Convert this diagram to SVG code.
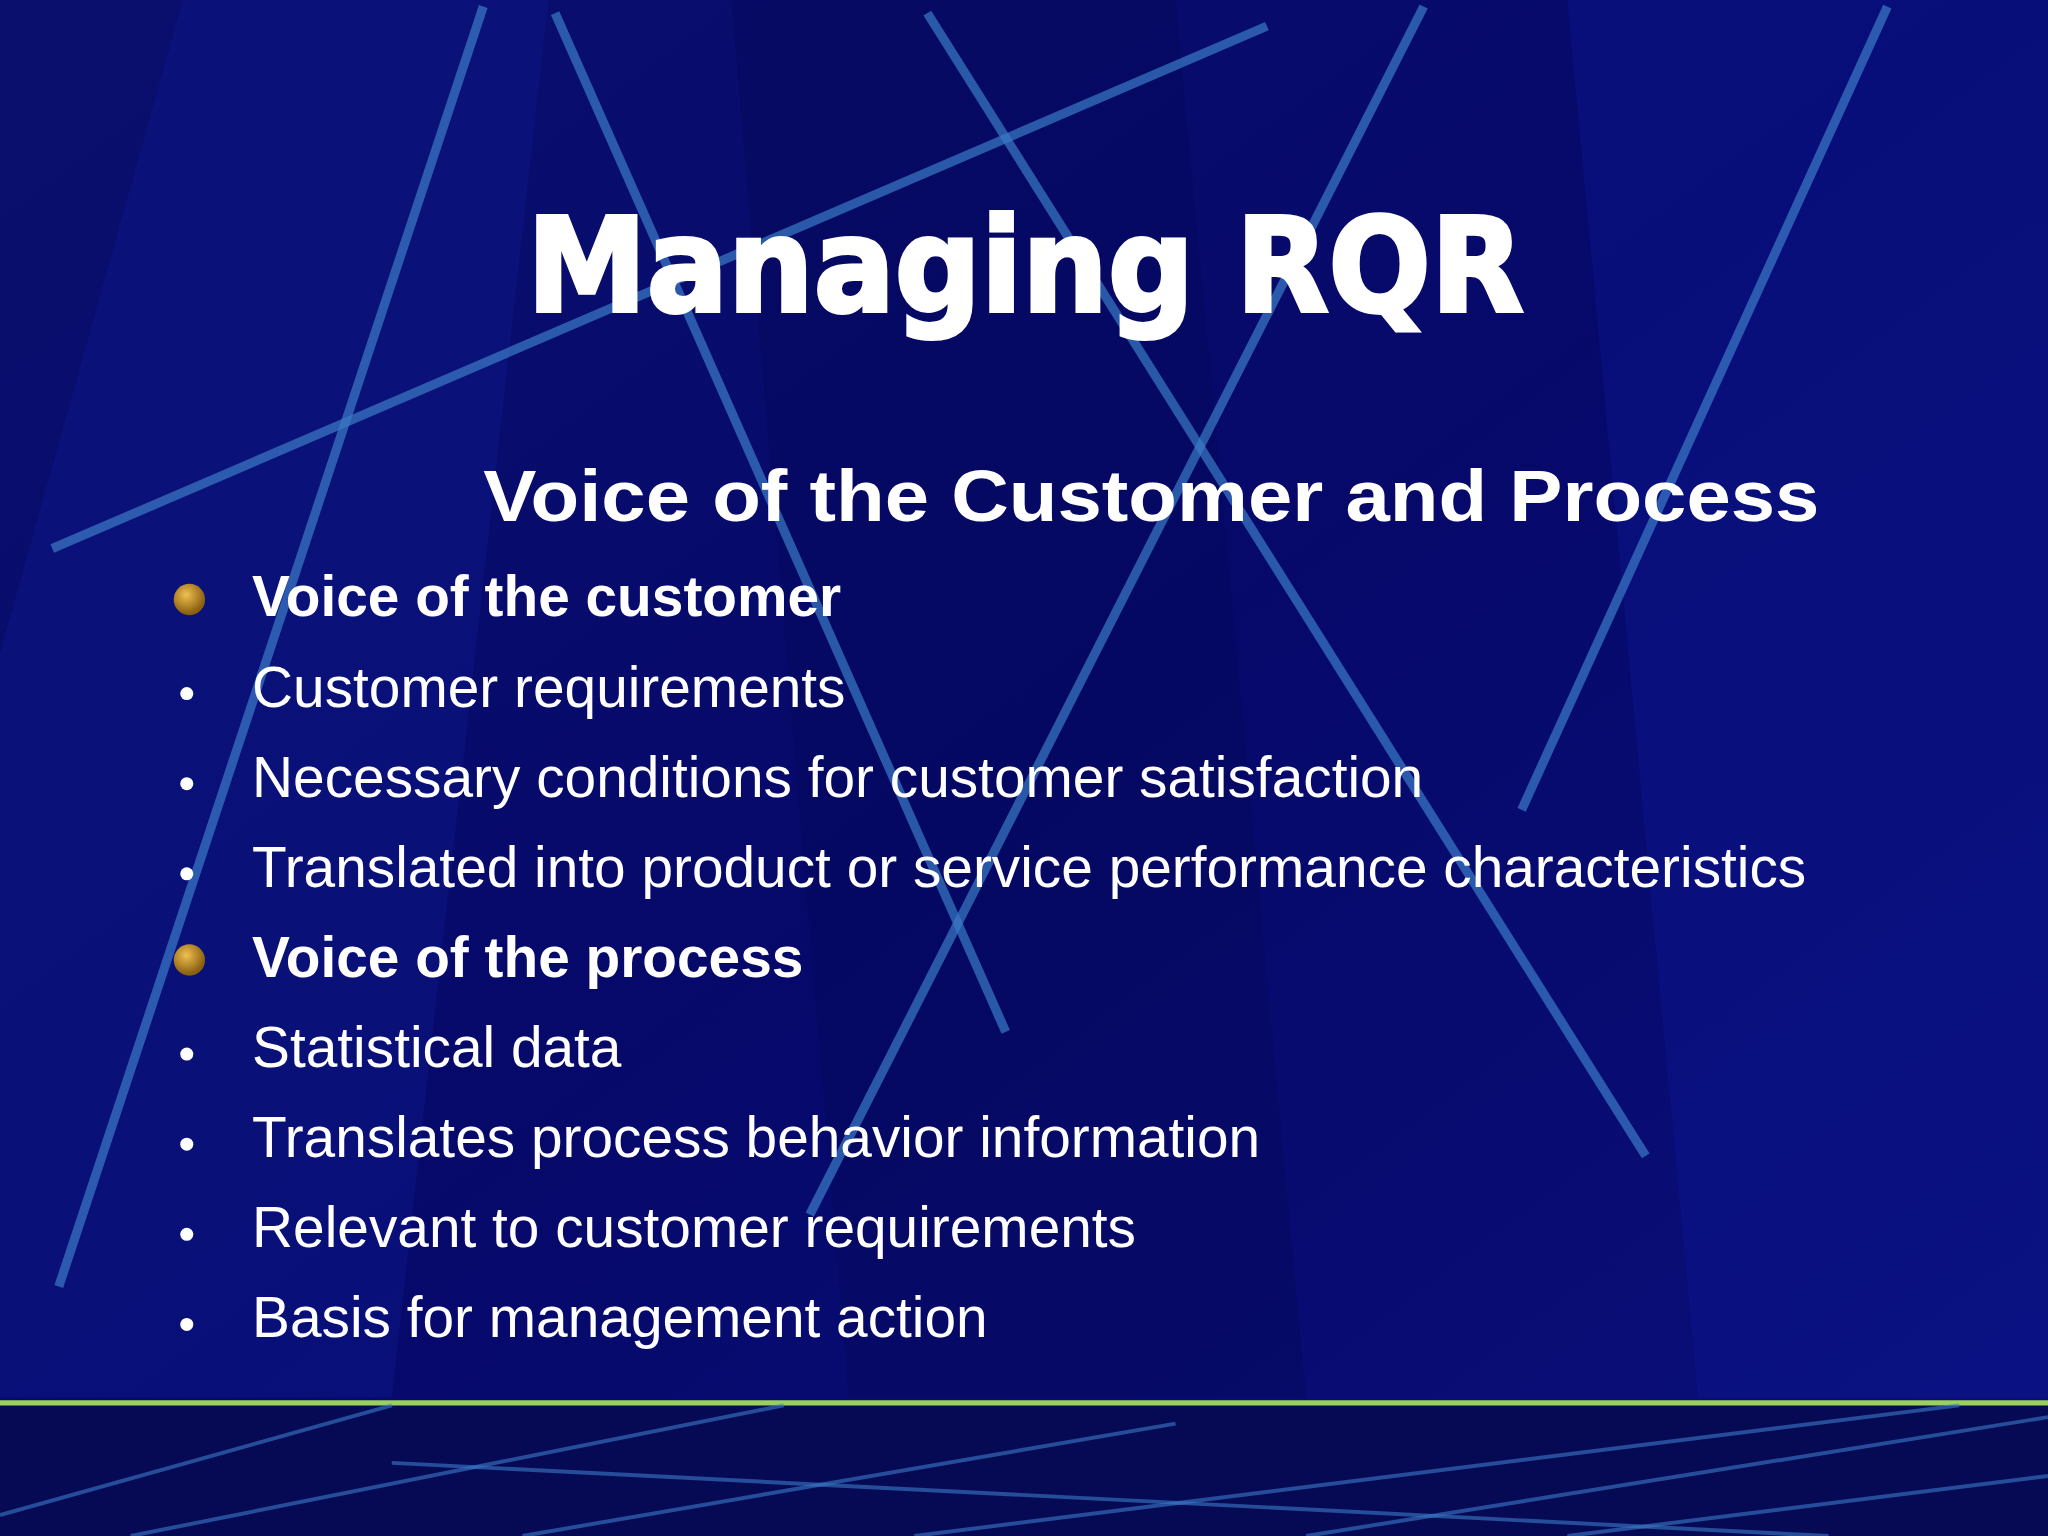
<svg xmlns="http://www.w3.org/2000/svg" width="2048" height="1536" viewBox="0 0 2048 1536">
<defs>
<linearGradient id="bg" x1="0" y1="0" x2="1" y2="1">
<stop offset="0" stop-color="#0a0f6e"/><stop offset="0.5" stop-color="#06096a"/><stop offset="1" stop-color="#0a0f7a"/>
</linearGradient>
<radialGradient id="gold" cx="0.4" cy="0.35" r="0.6">
<stop offset="0" stop-color="#f0c050"/><stop offset="1" stop-color="#8a6010"/>
</radialGradient>
<style>
.ln{stroke:#3a7ac8;stroke-width:7;opacity:0.7;fill:none}
.ln2{stroke:#3a7ac8;stroke-width:3;opacity:0.6;fill:none}
.b{font-family:"Liberation Sans",Arial,sans-serif;font-size:43.5px;fill:#fff}
.bb{font-family:"Liberation Sans",Arial,sans-serif;font-size:43.5px;font-weight:bold;fill:#fff}
</style>
</defs>
<g transform="scale(1.30612)">
<rect width="1568" height="1176" fill="url(#bg)"/>
<polygon points="140,0 420,0 300,1070 0,1070 0,500" fill="#0b1585" opacity="0.5"/>
<polygon points="560,0 900,0 1000,1070 650,1070" fill="#050858" opacity="0.4"/>
<polygon points="1200,0 1568,0 1568,1070 1300,1070" fill="#0c1690" opacity="0.4"/>
<line class="ln" x1="370" y1="5" x2="45" y2="985"/>
<line class="ln" x1="425" y1="10" x2="770" y2="790"/>
<line class="ln" x1="710" y1="10" x2="1260" y2="885"/>
<line class="ln" x1="1090" y1="5" x2="620" y2="930"/>
<line class="ln" x1="1445" y1="5" x2="1165" y2="620"/>
<line class="ln" x1="970" y1="20" x2="40" y2="420"/>
<rect x="0" y="1072" width="1568" height="104" fill="#060a55"/>
<line x1="0" y1="1074" x2="1568" y2="1074" stroke="#9ad060" stroke-width="4"/>
<line class="ln2" x1="0" y1="1160" x2="300" y2="1076"/>
<line class="ln2" x1="100" y1="1176" x2="600" y2="1076"/>
<line class="ln2" x1="400" y1="1176" x2="900" y2="1090"/>
<line class="ln2" x1="700" y1="1176" x2="1500" y2="1076"/>
<line class="ln2" x1="300" y1="1120" x2="1400" y2="1176"/>
<line class="ln2" x1="1000" y1="1176" x2="1568" y2="1085"/>
<line class="ln2" x1="1200" y1="1176" x2="1568" y2="1130"/>
<g id="title"><text x="785" y="238" text-anchor="middle" font-family="'DejaVu Sans','Liberation Sans',sans-serif" font-weight="900" font-size="100" fill="#fff" stroke="#fff" stroke-width="3" textLength="763" lengthAdjust="spacingAndGlyphs">Managing RQR</text></g>
<g id="subtitle"><text x="370" y="399" font-family="'Liberation Sans',Arial,sans-serif" font-weight="bold" font-size="56" fill="#fff" textLength="1023" lengthAdjust="spacingAndGlyphs">Voice of the Customer and Process</text></g>
<g id="bullets">
<circle cx="145" cy="459" r="12" fill="url(#gold)"/>
<circle cx="145" cy="735" r="12" fill="url(#gold)"/>
<circle cx="143" cy="531" r="5" fill="#fff"/>
<circle cx="143" cy="600" r="5" fill="#fff"/>
<circle cx="143" cy="669" r="5" fill="#fff"/>
<circle cx="143" cy="807" r="5" fill="#fff"/>
<circle cx="143" cy="876" r="5" fill="#fff"/>
<circle cx="143" cy="945" r="5" fill="#fff"/>
<circle cx="143" cy="1014" r="5" fill="#fff"/>
<text class="bb" x="193" y="472">Voice of the customer</text>
<text class="b" x="193" y="541">Customer requirements</text>
<text class="b" x="193" y="610">Necessary conditions for customer satisfaction</text>
<text class="b" x="193" y="679">Translated into product or service performance characteristics</text>
<text class="bb" x="193" y="748">Voice of the process</text>
<text class="b" x="193" y="817">Statistical data</text>
<text class="b" x="193" y="886">Translates process behavior information</text>
<text class="b" x="193" y="955">Relevant to customer requirements</text>
<text class="b" x="193" y="1024">Basis for management action</text>
</g>
</g>
</svg>
